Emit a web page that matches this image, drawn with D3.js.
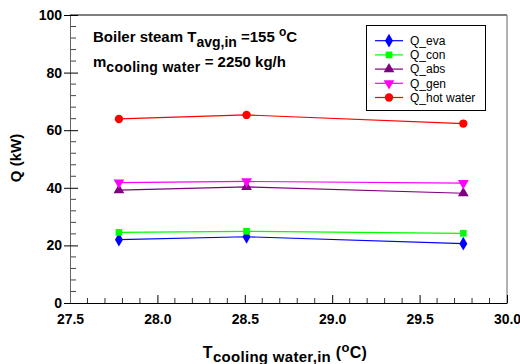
<!DOCTYPE html>
<html><head><meta charset="utf-8">
<script src="https://cdn.jsdelivr.net/npm/d3@7"></script>
<style>
body{margin:0;background:#fff;}
text{font-family:"Liberation Sans",Arial,sans-serif;}
.tk text{font-weight:bold;font-size:14px;fill:#000;}
</style></head>
<body><svg id="c" width="520" height="364"></svg>
<script>
const xValues = [27.78, 28.51, 29.75];
const seriesNames = ["Q_eva","Q_con","Q_abs","Q_gen","Q_hot water"];
const qEva = [22.0, 23.0, 20.6];
const qCon = [24.5, 24.9, 24.2];
const qAbs = [39.2, 40.3, 38.1];
const qGen = [41.8, 42.2, 41.6];
const qHot = [63.9, 65.3, 62.3];
const xTicks = [27.5, 28.0, 28.5, 29.0, 29.5, 30.0];
const yTicks = [0, 20, 40, 60, 80, 100];

const colors = ["#0000ff","#00ff00","#800080","#ff00ff","#ff0000"];
const symbols = [d3.symbolDiamond, d3.symbolSquare, d3.symbolTriangle, d3.symbolTriangle, d3.symbolCircle];
const rotations = [0,0,0,180,0];
const sizes = [55, 45, 50, 50, 55];
const seriesData = [qEva,qCon,qAbs,qGen,qHot];

const svg = d3.select("#c");
const L=70, R=507, T=15, B=303;
const x = d3.scaleLinear().domain([27.5,30]).range([L,R]);
const y = d3.scaleLinear().domain([0,100]).range([B,T]);

// frame
svg.append("line").attr("x1",L).attr("x2",R).attr("y1",T).attr("y2",T).attr("stroke","#000");
svg.append("line").attr("x1",R).attr("x2",R).attr("y1",T).attr("y2",B).attr("stroke","#666");

// minor ticks
const xMinor = d3.range(0,26).map(i=>27.5+i*0.1).filter(v=>Math.abs((v-27.5)/0.5-Math.round((v-27.5)/0.5))>0.01);
svg.append("g").selectAll("line").data(xMinor).join("line")
  .attr("x1",d=>x(d)).attr("x2",d=>x(d)).attr("y1",B).attr("y2",B-5).attr("stroke","#333");
const yMinor = d3.range(0,26).map(i=>i*4).filter(v=>v%20!==0);
svg.append("g").selectAll("line").data(yMinor).join("line")
  .attr("x1",L).attr("x2",L+6).attr("y1",d=>y(d)).attr("y2",d=>y(d)).attr("stroke","#444");

// axes
const xAxis = d3.axisBottom(x).tickValues(xTicks).tickFormat(d3.format(".1f")).tickSizeInner(-8).tickSizeOuter(0).tickPadding(11);
const gx = svg.append("g").attr("class","tk").attr("transform",`translate(0,${B})`).call(xAxis);
gx.select(".domain").attr("stroke","#000");
gx.selectAll(".tick line").attr("stroke","#000");

const yAxis = d3.axisLeft(y).tickValues(yTicks).tickSizeInner(6).tickSizeOuter(0).tickPadding(3);
const gy = svg.append("g").attr("class","tk").attr("transform",`translate(${L},0)`).call(yAxis);
gy.select(".domain").attr("stroke","#666");
gy.selectAll(".tick line").attr("x2",-6).attr("x1",8).attr("stroke","#000");
gy.selectAll("text").attr("x",-8);

// series
const line = d3.line().x((d,i)=>x(xValues[i])).y(d=>y(d));
seriesData.forEach((s,k)=>{
  svg.append("path").datum(s).attr("d",line).attr("fill","none").attr("stroke",colors[k]).attr("stroke-width",1.2);
  svg.append("g").selectAll("path").data(s).join("path")
    .attr("d",d3.symbol().type(symbols[k]).size(sizes[k]))
    .attr("transform",(d,i)=>`translate(${x(xValues[i])},${y(d)}) rotate(${rotations[k]})`)
    .attr("fill",colors[k]);
});

// legend
const lg = svg.append("g");
lg.append("rect").attr("x",366.5).attr("y",25.5).attr("width",119).attr("height",85).attr("fill","#fff").attr("stroke","#000");
seriesNames.forEach((n,k)=>{
  const yy = 40.7 + k*14.2;
  lg.append("line").attr("x1",375).attr("x2",403).attr("y1",yy).attr("y2",yy).attr("stroke",colors[k]).attr("stroke-width",1.2);
  lg.append("path").attr("d",d3.symbol().type(symbols[k]).size(sizes[k])).attr("transform",`translate(389,${yy}) rotate(${rotations[k]})`).attr("fill",colors[k]);
  lg.append("text").attr("x",410).attr("y",yy+4.3).attr("font-size",12).text(n);
});

// annotations
const t1 = svg.append("text").attr("x",93).attr("y",42).attr("font-size",15).attr("font-weight","bold");
t1.append("tspan").text("Boiler steam T");
t1.append("tspan").attr("dy",5).attr("font-size",14).text("avg,in");
t1.append("tspan").attr("dy",-5).text(" =155 ");
t1.append("tspan").attr("dy",-6).attr("font-size",12).text("o");
t1.append("tspan").attr("dy",6).text("C");

const t2 = svg.append("text").attr("x",93).attr("y",67).attr("font-size",15).attr("font-weight","bold");
t2.append("tspan").text("m");
t2.append("tspan").attr("dy",5).attr("font-size",14).attr("letter-spacing",0.3).text("cooling water");
t2.append("tspan").attr("dy",-5).text(" = 2250 kg/h");

svg.append("text").attr("transform","translate(21,158) rotate(-90)").attr("text-anchor","middle")
  .attr("font-size",15).attr("font-weight","bold").text("Q (kW)");

const xt = svg.append("text").attr("x",285).attr("y",358).attr("text-anchor","middle").attr("font-size",16).attr("font-weight","bold").attr("letter-spacing",0.3);
xt.append("tspan").text("T");
xt.append("tspan").attr("dy",4).attr("font-size",15).text("cooling water,in");
xt.append("tspan").attr("dy",-4).text(" (");
xt.append("tspan").attr("dy",-6).attr("font-size",13).text("o");
xt.append("tspan").attr("dy",6).text("C)");
</script></body></html>
